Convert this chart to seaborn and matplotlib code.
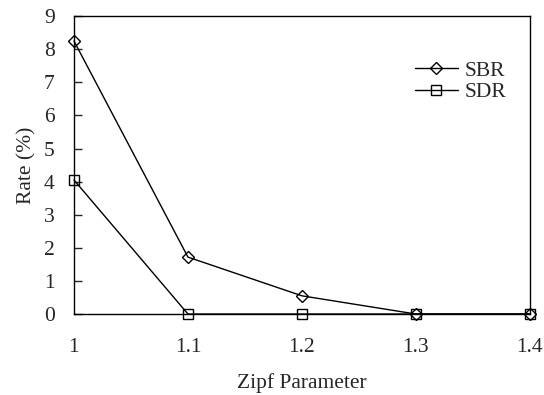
import matplotlib
matplotlib.use("Agg")
import matplotlib.pyplot as plt
import seaborn as sns
import pandas as pd

zipf = [1.0, 1.1, 1.2, 1.3, 1.4]
sbr = [8.25, 1.72, 0.55, 0.0, 0.0]
sdr = [4.05, 0.0, 0.0, 0.0, 0.0]
x_ticks = ["1", "1.1", "1.2", "1.3", "1.4"]

sns.set_theme(style="white")
plt.rcParams["font.family"] = ["Liberation Serif", "DejaVu Serif"]

df = pd.DataFrame({"Zipf": zipf * 2,
                   "Rate": sbr + sdr,
                   "Series": ["SBR"] * 5 + ["SDR"] * 5})

FS = 15.5
fig = plt.figure(figsize=(5.44, 3.95), dpi=100)
ax = fig.add_axes([0.136, 0.205, 0.838, 0.754])

for name, mk in [("SDR", "s"), ("SBR", "D")]:
    sub = df[df["Series"] == name]
    sns.lineplot(data=sub, x="Zipf", y="Rate", ax=ax, color="black",
                 linewidth=1.0, marker=mk, markersize=7 if mk == "s" else 6,
                 markerfacecolor="none", markeredgecolor="black",
                 markeredgewidth=1.0, label=name, clip_on=False)

ax.set_xlim(1.0, 1.4)
ax.set_ylim(0, 9)
ax.set_xticks(zipf)
ax.set_xticklabels(x_ticks)
ax.set_yticks(range(0, 10))
ax.tick_params(axis="x", length=0, pad=17, labelsize=FS)
ax.tick_params(axis="y", direction="in", length=6, width=1, left=True, pad=14, labelsize=FS)
for s in ax.spines.values():
    s.set_visible(True)
    s.set_color("black")
    s.set_linewidth(1.0)
ax.set_xlabel("Zipf Parameter", fontsize=FS, labelpad=12)
ax.set_ylabel("Rate (%)", fontsize=FS, labelpad=5)

h, l = ax.get_legend_handles_labels()
order = [l.index("SBR"), l.index("SDR")]
ax.legend([h[i] for i in order], [l[i] for i in order], loc="upper right",
          bbox_to_anchor=(0.99, 0.915), frameon=False, fontsize=FS,
          handlelength=2.0, handletextpad=0.3, labelspacing=0.05)

fig.savefig("out.png", dpi=100)
